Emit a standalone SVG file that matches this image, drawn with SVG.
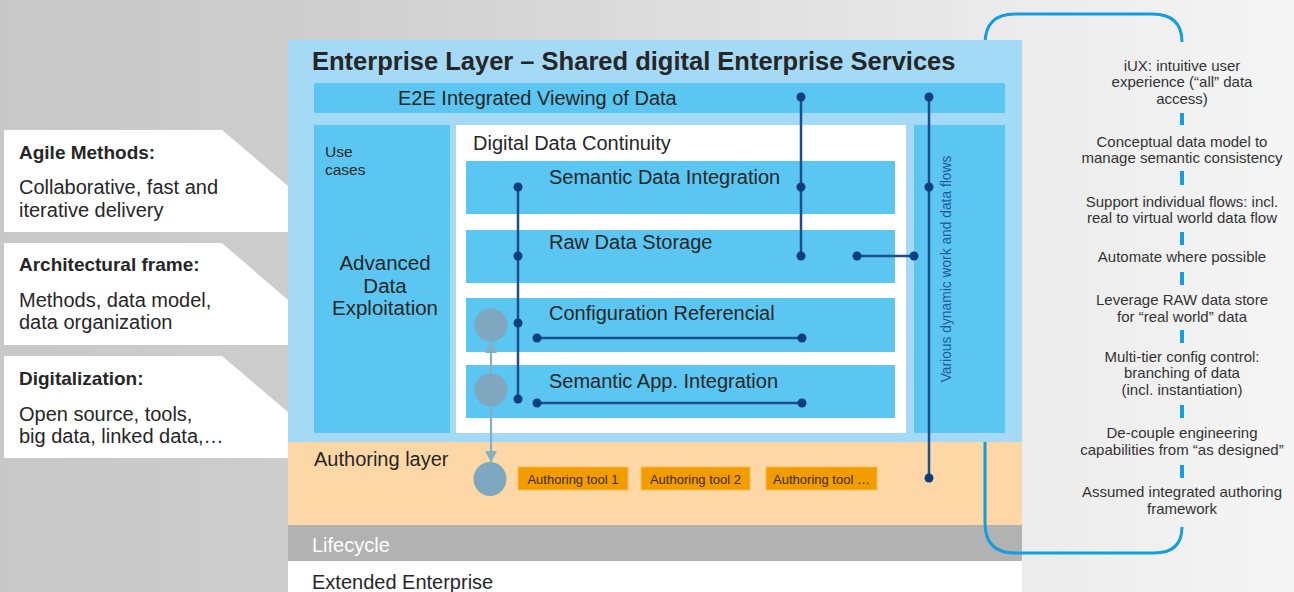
<svg xmlns="http://www.w3.org/2000/svg" width="1294" height="592" viewBox="0 0 1294 592">
<defs>
<linearGradient id="bg" x1="0" y1="0" x2="1294" y2="0" gradientUnits="userSpaceOnUse">
<stop offset="0" stop-color="#c8c8c8"/>
<stop offset="0.23" stop-color="#cdcdcd"/>
<stop offset="0.78" stop-color="#ebebeb"/>
<stop offset="1" stop-color="#f5f5f5"/>
</linearGradient>
<marker id="arr" viewBox="0 0 11 12" refX="11" refY="6" markerWidth="11" markerHeight="12" markerUnits="userSpaceOnUse" orient="auto">
<path d="M0,0 L11,6 L0,12 Z" fill="#86adc7"/>
</marker>
<style>
text{font-family:"Liberation Sans",Arial,sans-serif;fill:#262626}
.lb{fill:#a5daf6}
.mb{fill:#5bc6f1}
.wb{fill:#ffffff}
.h1{font-size:25.5px;font-weight:bold}
.t20{font-size:20px}
.lbl{font-size:19px;font-weight:bold}
.rt{font-size:15px;text-anchor:middle;fill:#333}
.tool{fill:#f39c00;stroke:#f7bb55;stroke-width:1}
.tt{font-size:13px;fill:#3a2a00}
.ln{stroke:#1d4e8f;stroke-width:2.5;fill:none}
.dot{fill:#0c3d7f}
.gc{fill:#7fa7bf}
.ga{stroke:#86adc7;stroke-width:2.2;fill:none}
.dash{stroke:#139ee0;stroke-width:4}
</style>
</defs>
<rect width="1294" height="592" fill="url(#bg)"/>
<g id="left-panels">
<g id="agile">
<path d="M4,130 L222,130 L288,186 L288,232 L4,232 Z" fill="#fff"/>
<text x="19" y="159" class="lbl">Agile Methods:</text>
<text x="19" y="194" class="t20">Collaborative, fast and</text>
<text x="19" y="217" class="t20">iterative delivery</text>
</g>
<g id="architectural">
<path d="M4,243 L222,243 L288,300 L288,345 L4,345 Z" fill="#fff"/>
<text x="19" y="271" class="lbl">Architectural frame:</text>
<text x="19" y="307" class="t20">Methods, data model,</text>
<text x="19" y="329" class="t20">data organization</text>
</g>
<g id="digitalization">
<path d="M4,356 L222,356 L288,412 L288,458 L4,458 Z" fill="#fff"/>
<text x="19" y="385" class="lbl">Digitalization:</text>
<text x="19" y="421" class="t20">Open source, tools,</text>
<text x="19" y="443" class="t20">big data, linked data,…</text>
</g>
</g>
<g id="authoring-layer">
<rect x="288" y="442" width="734" height="83" fill="#fdd8a6"/>
<text x="314" y="466" class="t20">Authoring layer</text>
</g>
<g id="tool1"><rect x="518" y="467" width="110" height="23" class="tool"/><text x="573" y="483.5" class="tt" text-anchor="middle">Authoring tool 1</text></g>
<g id="tool2"><rect x="641" y="467" width="109" height="23" class="tool"/><text x="695.5" y="483.5" class="tt" text-anchor="middle">Authoring tool 2</text></g>
<g id="tool3"><rect x="766" y="467" width="111" height="23" class="tool"/><text x="821.5" y="483.5" class="tt" text-anchor="middle">Authoring tool …</text></g>
<g id="lifecycle">
<rect x="288" y="525" width="734" height="36" fill="#b2b2b2"/>
<text x="312" y="552" class="t20" style="fill:#ffffff">Lifecycle</text>
</g>
<g id="extended-enterprise">
<rect x="288" y="561" width="734" height="31" fill="#ffffff"/>
<text x="312" y="589" class="t20">Extended Enterprise</text>
</g>
<g id="bracket">
<path d="M1182,42 Q1182,14 1152,14 L1015,14 Q985,14 985,44 L985,523 Q985,553 1015,553 L1154,553 Q1182,553 1182,527" fill="none" stroke="#139ee0" stroke-width="3"/>
</g>
<g id="enterprise-layer">
<rect x="288" y="40" width="734" height="402" class="lb"/>
<text x="312" y="70" class="h1">Enterprise Layer – Shared digital Enterprise Services</text>
</g>
<g id="e2e">
<rect x="314" y="83" width="691" height="30" class="mb"/>
<text x="398" y="105" class="t20">E2E Integrated Viewing of Data</text>
</g>
<g id="use-cases">
<rect x="314" y="125" width="136" height="308" class="mb"/>
<text x="325" y="157" style="font-size:15.5px">Use</text>
<text x="325" y="175" style="font-size:15.5px">cases</text>
<text x="385" y="270" class="t20" text-anchor="middle" style="font-size:20.5px">Advanced</text>
<text x="385" y="293" class="t20" text-anchor="middle" style="font-size:20.5px">Data</text>
<text x="385" y="315" class="t20" text-anchor="middle" style="font-size:20.5px">Exploitation</text>
</g>
<g id="digital-data-continuity">
<rect x="456" y="125" width="450" height="308" class="wb"/>
<text x="473" y="150" class="t20">Digital Data Continuity</text>
</g>
<g id="semantic-data-integration"><rect x="466" y="161" width="429" height="53" class="mb"/><text x="549" y="184" class="t20">Semantic Data Integration</text></g>
<g id="raw-data-storage"><rect x="466" y="230" width="429" height="53" class="mb"/><text x="549" y="249" class="t20">Raw Data Storage</text></g>
<g id="configuration-referencial"><rect x="466" y="298" width="429" height="54" class="mb"/><text x="549" y="320" class="t20">Configuration Referencial</text></g>
<g id="semantic-app-integration"><rect x="466" y="365" width="429" height="53" class="mb"/><text x="549" y="388" class="t20">Semantic App. Integration</text></g>
<g id="dynamic-flows">
<rect x="914" y="125" width="91" height="308" class="mb"/>
<text transform="translate(951,269) rotate(-90)" x="0" y="0" text-anchor="middle" style="font-size:13.8px;fill:#1f5a9e">Various dynamic work and data flows</text>
</g>
<g id="circle-config"><circle cx="491" cy="325" r="16.5" class="gc"/></g>
<g id="circle-app"><circle cx="491" cy="390" r="16.5" class="gc"/></g>
<g id="circle-authoring"><ellipse cx="490" cy="479" rx="16.5" ry="17" class="gc"/></g>
<g id="connectors">
<line x1="491" y1="374" x2="491" y2="342" class="ga" marker-end="url(#arr)"/>
<line x1="491" y1="406" x2="491" y2="462" class="ga" marker-end="url(#arr)"/>
<line x1="801" y1="97" x2="801" y2="256" class="ln"/>
<line x1="929" y1="97" x2="929" y2="478" class="ln"/>
<line x1="857" y1="256" x2="914" y2="256" class="ln"/>
<line x1="518" y1="187" x2="518" y2="399" class="ln"/>
<line x1="537" y1="338" x2="802" y2="338" class="ln"/>
<line x1="537" y1="403" x2="802" y2="403" class="ln"/>
<circle cx="801" cy="97" r="4.5" class="dot"/>
<circle cx="801" cy="187" r="4.5" class="dot"/>
<circle cx="801" cy="256" r="4.5" class="dot"/>
<circle cx="929" cy="97" r="4.5" class="dot"/>
<circle cx="929" cy="187" r="4.5" class="dot"/>
<circle cx="929" cy="478" r="4.5" class="dot"/>
<circle cx="857" cy="256" r="4.5" class="dot"/>
<circle cx="914" cy="256" r="4.5" class="dot"/>
<circle cx="518" cy="187" r="4.5" class="dot"/>
<circle cx="518" cy="256" r="4.5" class="dot"/>
<circle cx="518" cy="323" r="4.5" class="dot"/>
<circle cx="518" cy="399" r="4.5" class="dot"/>
<circle cx="537" cy="338" r="4.5" class="dot"/>
<circle cx="802" cy="338" r="4.5" class="dot"/>
<circle cx="537" cy="403" r="4.5" class="dot"/>
<circle cx="802" cy="403" r="4.5" class="dot"/>
</g>
<g id="principles">
<text x="1182" y="71" class="rt">iUX: intuitive user</text>
<text x="1182" y="87" class="rt">experience (“all” data</text>
<text x="1182" y="104" class="rt">access)</text>
<line x1="1182" y1="113" x2="1182" y2="125" class="dash"/>
<text x="1182" y="147" class="rt">Conceptual data model to</text>
<text x="1182" y="163" class="rt">manage semantic consistency</text>
<line x1="1182" y1="171" x2="1182" y2="185" class="dash"/>
<text x="1182" y="207" class="rt">Support individual flows: incl.</text>
<text x="1182" y="223" class="rt">real to virtual world data flow</text>
<line x1="1182" y1="232" x2="1182" y2="245" class="dash"/>
<text x="1182" y="262" class="rt">Automate where possible</text>
<line x1="1182" y1="272" x2="1182" y2="285" class="dash"/>
<text x="1182" y="305" class="rt">Leverage RAW data store</text>
<text x="1182" y="322" class="rt">for “real world” data</text>
<line x1="1182" y1="330" x2="1182" y2="343" class="dash"/>
<text x="1182" y="362" class="rt">Multi-tier config control:</text>
<text x="1182" y="378" class="rt">branching of data</text>
<text x="1182" y="395" class="rt">(incl. instantiation)</text>
<line x1="1182" y1="405" x2="1182" y2="418" class="dash"/>
<text x="1182" y="438" class="rt">De-couple engineering</text>
<text x="1182" y="455" class="rt">capabilities from “as designed”</text>
<line x1="1182" y1="465" x2="1182" y2="478" class="dash"/>
<text x="1182" y="497" class="rt">Assumed integrated authoring</text>
<text x="1182" y="514" class="rt">framework</text>
</g>
</svg>
